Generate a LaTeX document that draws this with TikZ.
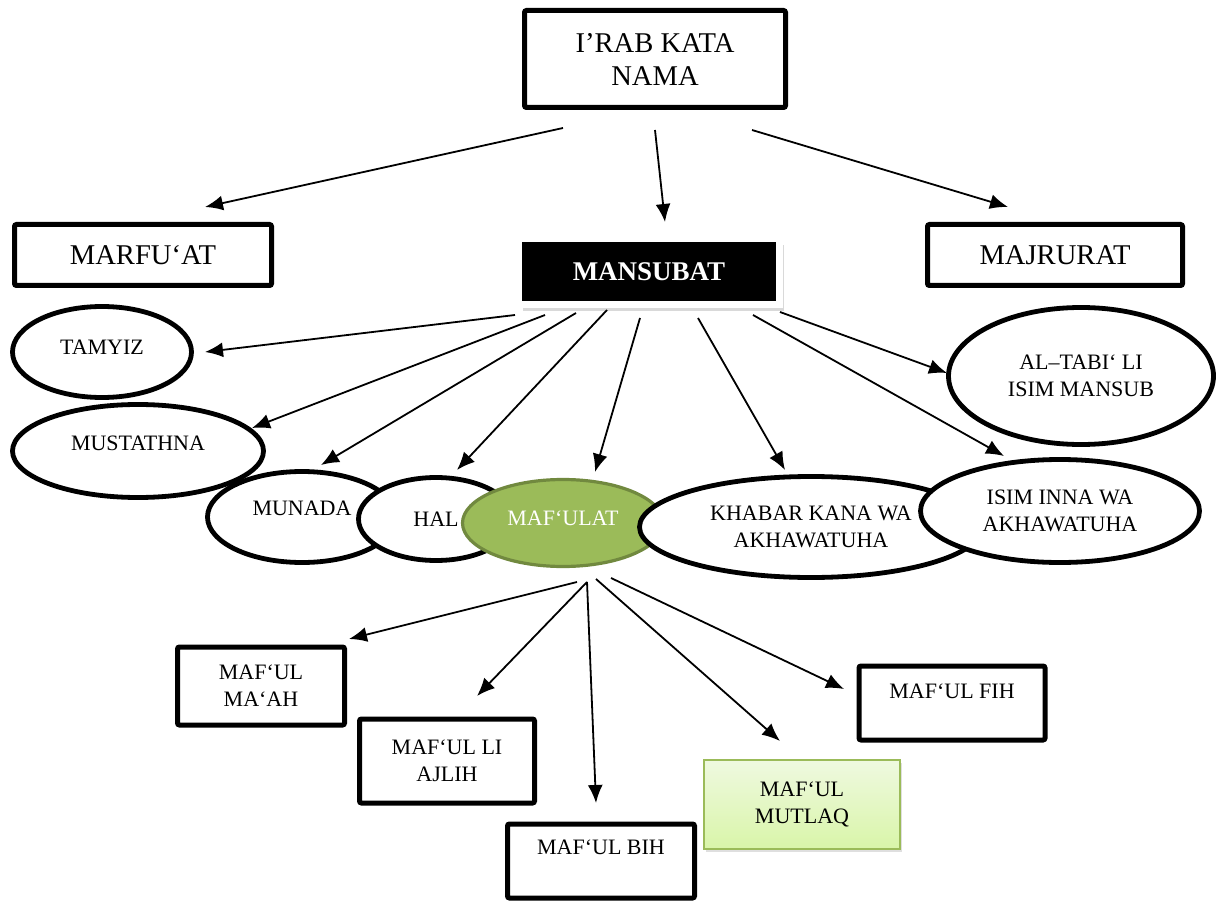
\documentclass[tikz,border=0pt]{standalone}
\usepackage{fontspec}
\setmainfont{Liberation Serif}
\usetikzlibrary{arrows.meta,shapes.geometric,shadows}

\definecolor{olivefill}{HTML}{9BBB59}
\definecolor{olivedraw}{HTML}{71893F}
\definecolor{mutlaqtop}{HTML}{EFF9E0}
\definecolor{mutlaqbot}{HTML}{D9F5A9}

\tikzset{
    bigtext/.style={font=\fontsize{14.3}{16.5}\selectfont, align=center},
    smalltext/.style={font=\fontsize{11}{13.5}\selectfont, align=center},
    box/.style={draw, rectangle, line width=2.5pt, rounded corners=1pt, fill=white, inner sep=0pt},
    oval/.style={draw, ellipse, line width=2.4pt, fill=white, inner sep=0pt, smalltext},
    arr/.style={-{Latex[length=9pt,width=7.5pt]}, line width=0.9pt},
    raised/.style={text depth=#1}
}

\begin{document}
\begin{tikzpicture}[x=0.5pt, y=-0.5pt]
    \useasboundingbox (0,0) rectangle (1219,903);

    % top level
    \node[box, bigtext, minimum width=130.5pt, minimum height=48.5pt] (irab) at (655,59) {I’RAB KATA\\NAMA};
    \node[box, bigtext, minimum width=128.5pt, minimum height=30.5pt] (marfuat) at (143,255) {MARFU‘AT};
    \node[rectangle, fill=black, draw=white, line width=3.5pt, text=white, font=\fontsize{13.5}{16}\selectfont\bfseries,
        minimum width=130.5pt, minimum height=33pt, inner sep=0pt,
        drop shadow={shadow xshift=2pt, shadow yshift=-3pt, opacity=0.3}] (mansubat) at (649,272) {MANSUBAT};
    \node[box, bigtext, minimum width=127.5pt, minimum height=30.5pt] (majrurat) at (1055,255) {MAJRURAT};

    % mansubat
    \node[oval, minimum width=94.5pt, minimum height=45.5pt, raised=9pt] (munada) at (302,517) {MUNADA};
    \node[oval, minimum width=125.5pt, minimum height=46.5pt, raised=8pt] (mustathna) at (138,451) {MUSTATHNA};
    \node[oval, minimum width=89.5pt, minimum height=45.5pt, raised=5pt] (tamyiz) at (102,352) {TAMYIZ};
    \node[oval, minimum width=77.5pt, minimum height=41.5pt] (hal) at (436,519) {HAL};
    \node[oval, fill=olivefill, draw=olivedraw, line width=1.6pt, text=white,
        minimum width=100.5pt, minimum height=43.5pt, raised=5pt] (mafulat) at (563,523) {MAF‘ULAT};
    \node[oval, minimum width=171.5pt, minimum height=50.5pt] (khabar) at (811,527) {KHABAR KANA WA\\AKHAWATUHA};
    \node[oval, minimum width=139.5pt, minimum height=51.5pt] (isim) at (1060,511) {ISIM INNA WA\\AKHAWATUHA};
    \node[oval, minimum width=132.5pt, minimum height=68.5pt] (tabi) at (1081,376) {AL–TABI‘ LI\\ISIM MANSUB};

    % maf'ulat
    \node[box, smalltext, minimum width=83.5pt, minimum height=39pt] (maah) at (261,686) {MAF‘UL\\MA‘AH};
    \node[box, smalltext, minimum width=87.5pt, minimum height=42pt] (ajlih) at (447,761) {MAF‘UL LI\\AJLIH};
    \node[box, smalltext, minimum width=93.5pt, minimum height=37pt, raised=13.5pt] (bih) at (601,861) {MAF‘UL BIH};
    \node[rectangle, draw=olivefill, line width=1pt, top color=mutlaqtop, bottom color=mutlaqbot, smalltext,
        minimum width=98pt, minimum height=44.5pt, inner sep=0pt,
        drop shadow={shadow xshift=1pt, shadow yshift=-1.5pt, opacity=0.25}] (mutlaq) at (802,804) {MAF‘UL\\MUTLAQ};
    \node[box, smalltext, minimum width=93pt, minimum height=37pt, raised=11.5pt] (fih) at (952,703) {MAF‘UL FIH};

    % arrows
    \draw[arr] ([shift={(-92,69)}]irab.center) -- ([shift={(62,-48)}]marfuat.center);
    \draw[arr] ([shift={(0,71)}]irab.center) -- ([shift={(16,-50)}]mansubat.center);
    \draw[arr] ([shift={(97,71)}]irab.center) -- ([shift={(-47,-48)}]majrurat.center);

    \draw[arr] ([shift={(-134,43)}]mansubat.center) -- ([shift={(103,0)}]tamyiz.center);
    \draw[arr] ([shift={(-104,43)}]mansubat.center) -- ([shift={(114,-23)}]mustathna.center);
    \draw[arr] ([shift={(-73,41)}]mansubat.center) -- ([shift={(19,-52)}]munada.center);
    \draw[arr] ([shift={(-42,38)}]mansubat.center) -- ([shift={(21,-49)}]hal.center);
    \draw[arr] ([shift={(-9,46)}]mansubat.center) -- ([shift={(32,-51)}]mafulat.center);
    \draw[arr] ([shift={(49,46)}]mansubat.center) -- ([shift={(-26,-57)}]khabar.center);
    \draw[arr] ([shift={(104,43)}]mansubat.center) -- ([shift={(-56,-55)}]isim.center);
    \draw[arr] ([shift={(131,40)}]mansubat.center) -- ([shift={(-134,-3)}]tabi.center);

    \draw[arr] ([shift={(14,59)}]mafulat.center) -- ([shift={(88,-47)}]maah.center);
    \draw[arr] ([shift={(24,59)}]mafulat.center) -- ([shift={(30,-65)}]ajlih.center);
    \draw[arr] ([shift={(24,59)}]mafulat.center) -- ([shift={(-5,-58)}]bih.center);
    \draw[arr] ([shift={(33,56)}]mafulat.center) -- ([shift={(-22,-63)}]mutlaq.center);
    \draw[arr] ([shift={(48,55)}]mafulat.center) -- ([shift={(-108,-14)}]fih.center);
\end{tikzpicture}
\end{document}
